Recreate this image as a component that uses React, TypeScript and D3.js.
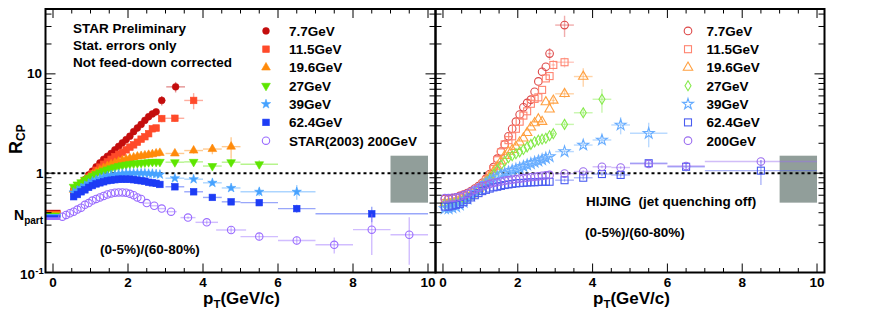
import React from "react";
import * as d3 from "d3";

const W = 872;
const H = 313;
const FONT = "'Liberation Sans', Arial, Helvetica, sans-serif";

// ---------------- axis tick labels ----------------
const xTickLabels = [0, 2, 4, 6, 8, 10];

// ---------------- STAR data (left panel) ----------------
const ptL = [0.55, 0.65, 0.75, 0.85, 0.95, 1.05, 1.15, 1.25, 1.35, 1.45, 1.55, 1.65, 1.75, 1.85, 1.95, 2.05, 2.15, 2.25, 2.35, 2.45, 2.55, 2.65, 2.75];

const pt77 = [...ptL, 2.9, 3.27];
const v77 = [0.66, 0.71, 0.78, 0.86, 0.96, 1.05, 1.16, 1.27, 1.38, 1.48, 1.58, 1.72, 1.86, 2.02, 2.18, 2.36, 2.62, 2.85, 3.1, 3.4, 3.7, 3.95, 4.15, 5.4, 7.4];
const xe77 = [0.1, 0.25];
const ye77 = [0.6, 0.9];

const pt115 = [...ptL, 2.9, 3.25, 3.75];
const v115 = [0.66, 0.71, 0.77, 0.84, 0.91, 0.99, 1.07, 1.15, 1.23, 1.3, 1.38, 1.47, 1.55, 1.62, 1.72, 1.83, 1.93, 2.05, 2.2, 2.33, 2.5, 2.8, 2.85, 3.55, 3.57, 5.4];
const xe115 = [0.1, 0.25, 0.25];
const ye115 = [0.3, 0.3, 1.0];

const pt196 = [...ptL, 2.85, 3.25, 3.75, 4.25, 4.75];
const v196 = [0.68, 0.73, 0.79, 0.85, 0.91, 0.97, 1.03, 1.08, 1.13, 1.18, 1.23, 1.27, 1.31, 1.35, 1.38, 1.41, 1.44, 1.47, 1.49, 1.51, 1.53, 1.55, 1.58, 1.6, 1.58, 1.69, 1.75, 1.85];
const xe196 = [0.25, 0.25, 0.25, 0.25];
const ye196 = [0.08, 0.12, 0.2, 0.45];

const pt27 = [...ptL, 2.85, 3.25, 3.75, 4.25, 4.75, 5.5];
const v27 = [0.73, 0.77, 0.81, 0.86, 0.9, 0.94, 0.98, 1.02, 1.06, 1.09, 1.12, 1.15, 1.18, 1.2, 1.22, 1.24, 1.25, 1.26, 1.27, 1.28, 1.29, 1.3, 1.3, 1.3, 1.29, 1.3, 1.18, 1.29, 1.23];
const xe27 = [0.25, 0.25, 0.25, 0.25, 0.5];
const ye27 = [0.04, 0.05, 0.07, 0.1, 0.12];

const pt39 = [...ptL, 2.85, 3.25, 3.75, 4.25, 4.75, 5.5, 6.5];
const v39 = [0.64, 0.67, 0.71, 0.75, 0.79, 0.83, 0.86, 0.89, 0.92, 0.94, 0.96, 0.97, 0.98, 0.99, 1.0, 1.0, 1.0, 1.0, 1.0, 1.0, 0.99, 0.99, 0.98, 0.97, 0.89, 0.87, 0.8, 0.71, 0.65, 0.65];
const xe39 = [0.25, 0.25, 0.25, 0.25, 0.5, 0.5];
const ye39 = [0.03, 0.04, 0.05, 0.05, 0.06, 0.11];

const pt62 = [...ptL, 2.85, 3.25, 3.75, 4.25, 4.75, 5.5, 6.5, 8.5];
const v62 = [0.58, 0.61, 0.65, 0.68, 0.72, 0.75, 0.78, 0.8, 0.82, 0.84, 0.85, 0.86, 0.87, 0.87, 0.87, 0.87, 0.86, 0.85, 0.84, 0.83, 0.81, 0.8, 0.79, 0.77, 0.73, 0.65, 0.57, 0.515, 0.505, 0.44, 0.39];
const xe62 = [0.25, 0.25, 0.25, 0.25, 0.5, 0.5, 1.5];
const ye62 = [0.02, 0.02, 0.02, 0.03, 0.03, 0.04, 0.07];

const pt200 = [0.25, 0.35, 0.45, 0.55, 0.65, 0.75, 0.85, 0.95, 1.05, 1.15, 1.25, 1.35, 1.45, 1.55, 1.65, 1.75, 1.85, 1.95, 2.05, 2.15, 2.25, 2.35, 2.5, 2.7, 2.9, 3.15, 3.6, 4.1, 4.75, 5.5, 6.5, 7.5, 8.5, 9.5];
const v200 = [0.365, 0.38, 0.395, 0.41, 0.43, 0.45, 0.48, 0.5, 0.53, 0.55, 0.57, 0.59, 0.61, 0.625, 0.635, 0.64, 0.64, 0.635, 0.62, 0.6, 0.57, 0.55, 0.5, 0.47, 0.44, 0.41, 0.357, 0.32, 0.268, 0.23, 0.21, 0.19, 0.27, 0.24];
const xe200 = [0.1, 0.1, 0.1, 0.15, 0.2, 0.3, 0.4, 0.5, 0.5, 0.5, 0.5, 0.5];
const ye200 = [0, 0, 0, 0, 0.01, 0.015, 0.02, 0.02, 0.02, 0.035, 0.12, 0.12];

// N_part scaling bands (one per energy)
const npartVals = [0.415, 0.405, 0.398, 0.388, 0.376, 0.366, 0.348];

// ---------------- HIJING (right panel) ----------------
const ptR = [0.05, 0.15, 0.25, 0.35, 0.45, 0.55, 0.65, 0.75, 0.85, 0.95, 1.05, 1.15, 1.25, 1.35, 1.45, 1.55, 1.65, 1.75, 1.85, 1.95, 2.05, 2.15, 2.25, 2.35, 2.45, 2.55, 2.65, 2.75, 2.85];

const hpt77 = [...ptR, 3.25];
const hv77 = [0.55, 0.55, 0.56, 0.57, 0.59, 0.61, 0.63, 0.66, 0.7, 0.74, 0.8, 0.88, 0.98, 1.15, 1.4, 1.65, 1.95, 2.35, 2.8, 3.3, 3.9, 4.6, 5.1, 5.5, 6.6, 8.4, 10.5, 11.8, 16, 31];
const hxe77 = [0.05, 0.25];
const hye77 = [2.2, 7.5];

const hpt115 = [...ptR, 2.95, 3.25];
const hv115 = [0.5, 0.5, 0.51, 0.52, 0.54, 0.56, 0.59, 0.62, 0.66, 0.71, 0.77, 0.85, 0.95, 1.1, 1.35, 1.62, 1.95, 2.15, 2.35, 2.8, 3.3, 3.8, 4.2, 5.0, 5.6, 5.8, 6.9, 9.0, 9.5, 12.3, 13.1];
const hxe115 = [0.05, 0.25];
const hye115 = [1.5, 1.5];

const hpt196 = [...ptR, 2.95, 3.25, 3.75];
const hv196 = [0.5, 0.5, 0.51, 0.52, 0.53, 0.55, 0.58, 0.61, 0.65, 0.7, 0.76, 0.84, 0.93, 1.04, 1.17, 1.32, 1.5, 1.65, 1.72, 1.85, 2.05, 2.25, 2.55, 2.9, 3.2, 3.5, 3.3, 5.2, 4.4, 5.4, 6.3, 9.4];
const hxe196 = [0.05, 0.25, 0.25];
const hye196 = [0.5, 0.6, 2.0];

const hpt27 = [...ptR, 2.95, 3.25, 3.75, 4.25];
const hv27 = [0.49, 0.49, 0.5, 0.51, 0.52, 0.54, 0.57, 0.6, 0.64, 0.68, 0.73, 0.8, 0.88, 0.97, 1.08, 1.2, 1.32, 1.43, 1.5, 1.57, 1.64, 1.73, 1.84, 1.95, 2.07, 2.15, 2.2, 2.25, 2.38, 2.5, 3.1, 4.06, 5.55];
const hxe27 = [0.05, 0.25, 0.25, 0.25];
const hye27 = [0.15, 0.2, 0.35, 1.5];

const hpt39 = [...ptR, 3.25, 3.75, 4.25, 4.75, 5.5];
const hv39 = [0.44, 0.44, 0.45, 0.46, 0.48, 0.51, 0.55, 0.59, 0.64, 0.69, 0.74, 0.79, 0.84, 0.88, 0.92, 0.96, 1.0, 1.03, 1.07, 1.1, 1.13, 1.17, 1.21, 1.25, 1.29, 1.33, 1.37, 1.42, 1.47, 1.65, 1.92, 2.16, 3.06, 2.52];
const hxe39 = [0.25, 0.25, 0.25, 0.25, 0.5];
const hye39 = [0.08, 0.12, 0.2, 0.6, 0.7];

const hpt62 = [...ptR, 3.25, 3.75, 4.25, 4.75, 5.5, 6.5, 8.5];
const hv62 = [0.46, 0.46, 0.47, 0.48, 0.49, 0.51, 0.54, 0.57, 0.6, 0.63, 0.66, 0.68, 0.7, 0.72, 0.73, 0.745, 0.76, 0.77, 0.78, 0.79, 0.795, 0.8, 0.805, 0.81, 0.81, 0.815, 0.82, 0.82, 0.82, 0.85, 0.9, 0.98, 0.96, 1.26, 1.16, 1.06];
const hxe62 = [0.25, 0.25, 0.25, 0.25, 0.5, 0.5, 1.5];
const hye62 = [0.03, 0.04, 0.05, 0.06, 0.1, 0.12, 0.3];

const hpt200 = [...ptR, 3.25, 3.75, 4.25, 4.75, 5.5, 6.5, 8.5];
const hv200 = [0.56, 0.56, 0.565, 0.57, 0.58, 0.6, 0.62, 0.65, 0.68, 0.71, 0.74, 0.76, 0.78, 0.8, 0.81, 0.825, 0.84, 0.85, 0.86, 0.87, 0.88, 0.89, 0.9, 0.91, 0.92, 0.93, 0.94, 0.95, 0.96, 0.99, 1.04, 1.16, 1.14, 1.24, 1.18, 1.31];
const hxe200 = [0.25, 0.25, 0.25, 0.25, 0.5, 0.5, 1.5];
const hye200 = [0.03, 0.03, 0.04, 0.04, 0.06, 0.06, 0.05];

// legends
const legendLeft = ["7.7GeV", "11.5GeV", "19.6GeV", "27GeV", "39GeV", "62.4GeV", "STAR(2003) 200GeV"];
const legendRight = ["7.7GeV", "11.5GeV", "19.6GeV", "27GeV", "39GeV", "62.4GeV", "200GeV"];

// ---------------- styles ----------------
type Shape = "circle" | "square" | "triangle" | "tridown" | "star" | "diamond";
type Series = {
  pt: number[]; v: number[]; xe: number[]; ye: number[];
  color: string; shape: Shape; filled: boolean; size: number;
};

const colL = ["#c40d0d", "#ff4a2a", "#ff8a0a", "#5ee600", "#46a2ff", "#1d3cf5", "#9a6cff"];
const colR = ["#dd4848", "#ff8470", "#ffa040", "#86ea4c", "#66acff", "#4a5cf0", "#9a6cef"];

const seriesL: Series[] = [
  { pt: pt77, v: v77, xe: xe77, ye: ye77, color: colL[0], shape: "circle", filled: true, size: 3.4 },
  { pt: pt115, v: v115, xe: xe115, ye: ye115, color: colL[1], shape: "square", filled: true, size: 6.6 },
  { pt: pt196, v: v196, xe: xe196, ye: ye196, color: colL[2], shape: "triangle", filled: true, size: 7.4 },
  { pt: pt27, v: v27, xe: xe27, ye: ye27, color: colL[3], shape: "tridown", filled: true, size: 7.4 },
  { pt: pt39, v: v39, xe: xe39, ye: ye39, color: colL[4], shape: "star", filled: true, size: 6 },
  { pt: pt62, v: v62, xe: xe62, ye: ye62, color: colL[5], shape: "square", filled: true, size: 6.6 },
  { pt: pt200, v: v200, xe: xe200, ye: ye200, color: colL[6], shape: "circle", filled: false, size: 3.7 },
];

const seriesR: Series[] = [
  { pt: hpt77, v: hv77, xe: hxe77, ye: hye77, color: colR[0], shape: "circle", filled: false, size: 3.8 },
  { pt: hpt115, v: hv115, xe: hxe115, ye: hye115, color: colR[1], shape: "square", filled: false, size: 7 },
  { pt: hpt196, v: hv196, xe: hxe196, ye: hye196, color: colR[2], shape: "triangle", filled: false, size: 8 },
  { pt: hpt27, v: hv27, xe: hxe27, ye: hye27, color: colR[3], shape: "diamond", filled: false, size: 9 },
  { pt: hpt39, v: hv39, xe: hxe39, ye: hye39, color: colR[4], shape: "star", filled: false, size: 7 },
  { pt: hpt62, v: hv62, xe: hxe62, ye: hye62, color: colR[5], shape: "square", filled: false, size: 7 },
  { pt: hpt200, v: hv200, xe: hxe200, ye: hye200, color: colR[6], shape: "circle", filled: false, size: 3.8 },
];

// ---------------- scales ----------------
const xL = d3.scaleLinear().domain([-0.2, 10.2]).range([45.5, 435.5]);
const xR = d3.scaleLinear().domain([-0.2, 10.2]).range([435.5, 824.5]);
const y = d3.scaleLog().domain([0.1, 45]).range([272.5, 9]);

const Y_TOP = y(45);
const Y_BOT = y(0.1);

function Marker({ shape, cx, cy, color, filled, size }: { shape: Shape; cx: number; cy: number; color: string; filled: boolean; size: number }) {
  const fill = filled ? color : "none";
  const stroke = color;
  const sw = filled ? 0.6 : 1.1;
  if (shape === "circle") {
    return <circle cx={cx} cy={cy} r={size} fill={filled ? color : "white"} fillOpacity={filled ? 1 : 0} stroke={stroke} strokeWidth={sw} />;
  }
  if (shape === "square") {
    const s = size;
    return <rect x={cx - s / 2} y={cy - s / 2} width={s} height={s} fill={fill} stroke={stroke} strokeWidth={sw} />;
  }
  if (shape === "triangle" || shape === "tridown") {
    const p = d3.symbol(d3.symbolTriangle, size * size * 0.6)() as string;
    return <path d={p} transform={`translate(${cx},${cy})${shape === "tridown" ? " rotate(180)" : ""}`} fill={fill} stroke={stroke} strokeWidth={sw} />;
  }
  if (shape === "star") {
    const p = d3.symbol(d3.symbolStar, size * size * 0.75)() as string;
    return <path d={p} transform={`translate(${cx},${cy})`} fill={fill} stroke={stroke} strokeWidth={sw} />;
  }
  // diamond (narrow)
  const h = size / 2 + 0.5;
  const w = size / 3;
  return <path d={`M0,${-h}L${w},0L0,${h}L${-w},0Z`} transform={`translate(${cx},${cy})`} fill={fill} stroke={stroke} strokeWidth={sw} />;
}

function SeriesMarks({ s, xs }: { s: Series; xs: d3.ScaleLinear<number, number> }) {
  const n = s.pt.length;
  const off = n - s.xe.length;
  const bars: React.ReactNode[] = [];
  const marks: React.ReactNode[] = [];
  for (let i = 0; i < n; i++) {
    const cx = xs(s.pt[i]);
    const cy = y(s.v[i]);
    if (i >= off) {
      const xe = s.xe[i - off];
      const ye = s.ye[i - off];
      if (xe > 0) {
        bars.push(<line key={`xe${i}`} x1={xs(s.pt[i] - xe)} x2={xs(s.pt[i] + xe)} y1={cy} y2={cy} stroke={s.color} strokeOpacity={0.45} strokeWidth={1.4} />);
      }
      if (ye > 0) {
        const lo = Math.max(0.101, s.v[i] - ye);
        bars.push(<line key={`ye${i}`} x1={cx} x2={cx} y1={y(lo)} y2={y(s.v[i] + ye)} stroke={s.color} strokeOpacity={0.45} strokeWidth={1.4} />);
      }
    }
    marks.push(<Marker key={`m${i}`} shape={s.shape} cx={cx} cy={cy} color={s.color} filled={s.filled} size={s.size} />);
  }
  return (
    <g>
      {bars}
      {marks}
    </g>
  );
}

function Frame({ xs }: { xs: d3.ScaleLinear<number, number> }) {
  const [x0, x1] = xs.range();
  const ticks: React.ReactNode[] = [];
  for (let k = 0; k <= 20; k++) {
    const v = k * 0.5;
    const px = xs(v);
    const major = k % 4 === 0;
    const len = major ? 9 : 4.5;
    ticks.push(<line key={`bt${k}`} x1={px} x2={px} y1={Y_BOT} y2={Y_BOT - len} stroke="#000" strokeWidth={1} />);
    ticks.push(<line key={`tt${k}`} x1={px} x2={px} y1={Y_TOP} y2={Y_TOP + len} stroke="#000" strokeWidth={1} />);
  }
  const decades = [0.1, 1, 10];
  decades.forEach((d) => {
    for (let m = 1; m <= 9; m++) {
      const v = d * m;
      if (v > 45) continue;
      const py = y(v);
      const len = m === 1 ? 10 : 6;
      ticks.push(<line key={`ly${d}-${m}`} x1={x0} x2={x0 + len} y1={py} y2={py} stroke="#000" strokeWidth={1} />);
      ticks.push(<line key={`ry${d}-${m}`} x1={x1} x2={x1 - len} y1={py} y2={py} stroke="#000" strokeWidth={1} />);
    }
  });
  return (
    <g>
      {ticks}
      <rect x={x0} y={Y_TOP} width={x1 - x0} height={Y_BOT - Y_TOP} fill="none" stroke="#000" strokeWidth={2} />
    </g>
  );
}

function XLabels({ xs, titleX }: { xs: d3.ScaleLinear<number, number>; titleX: number }) {
  return (
    <g fontFamily={FONT} fontWeight="bold">
      {xTickLabels.map((t) => (
        <text key={t} x={xs(t)} y={286.5} fontSize={13.5} textAnchor="middle">{t}</text>
      ))}
      <text x={titleX} y={303.5} fontSize={17}>
        p<tspan fontSize={11.5} dy={4}>T</tspan><tspan dy={-4}>(GeV/c)</tspan>
      </text>
    </g>
  );
}

function Legend({ labels, series, mx, tx }: { labels: string[]; series: Series[]; mx: number; tx: number }) {
  return (
    <g fontFamily={FONT} fontWeight="bold" fontSize={13.5}>
      {labels.map((lab, i) => {
        const base = 35.7 + i * 18.3;
        const s = series[i];
        return (
          <g key={lab}>
            <Marker shape={s.shape} cx={mx} cy={base - 4.8} color={s.color} filled={s.filled} size={s.size} />
            <text x={tx} y={base}>{lab}</text>
          </g>
        );
      })}
    </g>
  );
}

export default function App() {
  const boxTop = y(1.5);
  const boxBot = y(0.505);
  return (
    <svg width={W} height={H} style={{ position: "absolute", left: 0, top: 0, background: "#fff" }} xmlns="http://www.w3.org/2000/svg">
      <rect x={0} y={0} width={W} height={H} fill="#fff" />

      {/* gray normalization boxes */}
      <rect x={xL(9)} y={boxTop} width={xL(10) - xL(9)} height={boxBot - boxTop} fill="#919e9a" />
      <rect x={xR(9)} y={boxTop} width={xR(10) - xR(9)} height={boxBot - boxTop} fill="#919e9a" />

      {/* unity lines */}
      <line x1={xL.range()[0]} x2={xL.range()[1]} y1={y(1)} y2={y(1)} stroke="#000" strokeWidth={2} strokeDasharray="3,3" />
      <line x1={xR.range()[0]} x2={xR.range()[1]} y1={y(1)} y2={y(1)} stroke="#000" strokeWidth={2} strokeDasharray="3,3" />

      {/* Npart bands */}
      {npartVals.map((v, i) => (
        <rect key={`np${i}`} x={xL(-0.2)} y={y(v) - 1.3} width={xL(0.2) - xL(-0.2)} height={2.6} fill={colL[i]} />
      ))}

      {/* data */}
      {seriesL.map((s, i) => <SeriesMarks key={`L${i}`} s={s} xs={xL} />)}
      {seriesR.map((s, i) => <SeriesMarks key={`R${i}`} s={s} xs={xR} />)}

      {/* frames */}
      <Frame xs={xL} />
      <Frame xs={xR} />

      {/* y tick labels */}
      <g fontFamily={FONT} fontWeight="bold" fontSize={13.5}>
        <text x={42} y={y(10) + 4.5} textAnchor="end">10</text>
        <text x={43.5} y={y(1) + 4.8} textAnchor="end">1</text>
        <text x={35} y={278.5} textAnchor="end">10</text>
        <text x={35.3} y={273.5} fontSize={9.5}>-1</text>
      </g>

      <XLabels xs={xL} titleX={203} />
      <XLabels xs={xR} titleX={593} />

      {/* y title */}
      <g fontFamily={FONT} fontWeight="bold">
        <text transform="translate(22,154) rotate(-90)" fontSize={18}>
          R<tspan fontSize={12} dy={3}>CP</tspan>
        </text>
        <text x={14} y={220} fontSize={14}>
          N<tspan fontSize={10} dy={4}>part</tspan>
        </text>
      </g>

      {/* annotations */}
      <g fontFamily={FONT} fontWeight="bold" fontSize={13.5}>
        <text x={73} y={32.5}>STAR Preliminary</text>
        <text x={73} y={49.5}>Stat. errors only</text>
        <text x={73} y={66.5}>Not feed-down corrected</text>
        <text x={100} y={254}>(0-5%)/(60-80%)</text>
        <text x={586} y={206}>{"HIJING\u00A0\u00A0(jet quenching off)"}</text>
        <text x={585} y={236.5}>(0-5%)/(60-80%)</text>
      </g>

      <Legend labels={legendLeft} series={seriesL} mx={266} tx={289} />
      <Legend labels={legendRight} series={seriesR} mx={688} tx={706.5} />
    </svg>
  );
}
